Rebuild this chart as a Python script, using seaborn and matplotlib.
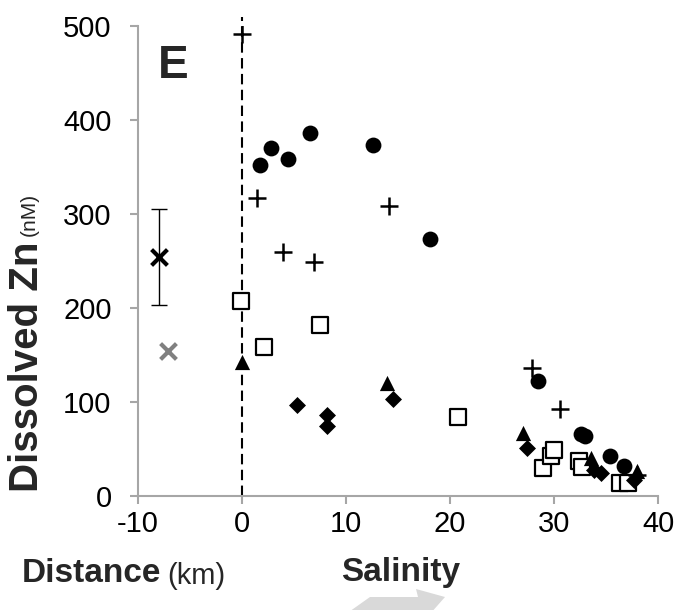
import matplotlib
matplotlib.use("Agg")
import matplotlib.pyplot as plt
import seaborn as sns
import numpy as np
import pandas as pd
from matplotlib.patches import Polygon

# ---------------- data ----------------
circle_x = [1.7, 2.8, 4.4, 6.5, 12.6, 18.1, 28.5, 32.6, 33.0, 35.4, 36.7]
circle_y = [352, 370, 358, 386, 373, 273, 122, 66, 64, 43, 32]

plus_x = [0.0, 1.4, 3.9, 6.9, 14.1, 27.9, 30.6, 38.0]
plus_y = [492, 317, 260, 249, 309, 136, 93, 22]

square_x = [-0.1, 2.1, 7.5, 20.8, 28.9, 29.7, 30.0, 32.4, 32.7, 36.3, 37.1]
square_y = [207, 158, 182, 84, 30, 43, 49, 37, 31, 14, 14]

triangle_x = [0.0, 13.9, 27.0, 33.6, 38.0]
triangle_y = [143, 120, 67, 40, 27]

diamond_x = [5.3, 8.2, 8.2, 14.5, 27.4, 33.8, 34.5, 37.7]
diamond_y = [97, 86, 75, 103, 51, 28, 24, 17]

cross_x = [-8.0]
cross_y = [254]
cross_err = [51]

gray_cross_x = [-7.1]
gray_cross_y = [154]

xticks = [-10, 0, 10, 20, 30, 40]
yticks = [0, 100, 200, 300, 400, 500]

# ---------------- figure ----------------
sns.set_theme(style="white")
plt.rcParams['font.family'] = ['Liberation Sans', 'DejaVu Sans']

W, H = 679, 610
fig = plt.figure(figsize=(W / 100, H / 100), dpi=100)
left, right, bottom, top = 138, 658, 496, 26
ax = fig.add_axes([left / W, 1 - bottom / H, (right - left) / W, (bottom - top) / H])

spine_col = "#a6a6a6"

# dashed zero line
ax.axvline(0, ymin=0, ymax=1.02, color="black", ls=(0, (5, 2.6)), lw=1.5, clip_on=False, zorder=1)

# error bar for black cross
ax.errorbar(cross_x, cross_y, yerr=cross_err, fmt="none", ecolor="black",
            elinewidth=1.0, capsize=6, capthick=1.0, zorder=2)

df_c = pd.DataFrame({"x": circle_x, "y": circle_y})
df_p = pd.DataFrame({"x": plus_x, "y": plus_y})
df_s = pd.DataFrame({"x": square_x, "y": square_y})
df_t = pd.DataFrame({"x": triangle_x, "y": triangle_y})
df_d = pd.DataFrame({"x": diamond_x, "y": diamond_y})
df_x = pd.DataFrame({"x": cross_x, "y": cross_y})
df_g = pd.DataFrame({"x": gray_cross_x, "y": gray_cross_y})

sns.scatterplot(data=df_s, x="x", y="y", ax=ax, marker="s", s=140,
                facecolor="white", edgecolor="black", linewidth=1.6, zorder=3)
sns.scatterplot(data=df_t, x="x", y="y", ax=ax, marker="^", s=120,
                color="black", edgecolor="black", linewidth=0, zorder=4)
sns.scatterplot(data=df_d, x="x", y="y", ax=ax, marker="D", s=75,
                color="black", edgecolor="black", linewidth=0, zorder=4)
sns.scatterplot(data=df_c, x="x", y="y", ax=ax, marker="o", s=130,
                color="black", edgecolor="black", linewidth=0, zorder=5)
sns.scatterplot(data=df_p, x="x", y="y", ax=ax, marker="+", s=150,
                color="black", linewidth=1.8, zorder=6)
sns.scatterplot(data=df_x, x="x", y="y", ax=ax, marker="x", s=130,
                color="black", linewidth=3.0, zorder=6)
sns.scatterplot(data=df_g, x="x", y="y", ax=ax, marker="x", s=130,
                color="#808080", linewidth=3.0, zorder=6)

ax.set_xlim(-10, 40)
ax.set_ylim(0, 500)
ax.set_xticks(xticks)
ax.set_yticks(yticks)
ax.set_xticklabels([str(t) for t in xticks])
ax.set_yticklabels([str(t) for t in yticks])
ax.set_xlabel("")
ax.set_ylabel("")
for s in ["top", "right"]:
    ax.spines[s].set_visible(False)
for s in ["left", "bottom"]:
    ax.spines[s].set_color(spine_col)
    ax.spines[s].set_linewidth(1.5)
ax.tick_params(axis="both", which="major", direction="out", length=6, width=1.5,
               color=spine_col, labelsize=21, labelcolor="black",
               bottom=True, left=True)
ax.tick_params(axis="y", pad=13)
ax.tick_params(axis="x", pad=4)
ax.set_facecolor("white")

# panel letter
fig.text(158 / W, 1 - 66 / H, "E", fontsize=33, fontweight="bold", ha="left", va="center")

# axis labels
fig.canvas.draw()
r = fig.canvas.get_renderer()

t1 = fig.text(22 / W, 1 - 574 / H, "Distance", fontsize=24, fontweight="bold",
              ha="left", va="center")
bb = t1.get_window_extent(r)
fig.text((bb.x1 + 6) / W, 1 - 576 / H, "(km)", fontsize=21, ha="left", va="center")

fig.text(401 / W, 1 - 572 / H, "Salinity", fontsize=24, fontweight="bold",
         ha="center", va="center")

t2 = fig.text(27 / W, 1 - 492 / H, "Dissolved Zn", fontsize=29, fontweight="bold",
              rotation=90, ha="center", va="bottom")
bb2 = t2.get_window_extent(r)
fig.text(29 / W, (bb2.y1 + 6) / H, "(nM)", fontsize=15, rotation=90,
         ha="center", va="bottom")

# decorative light-grey arrow at bottom
pts = [(346, 614), (370, 597), (418, 597), (416, 589), (445, 597), (430, 614)]
poly = Polygon([(x / W, 1 - y / H) for x, y in pts], closed=True,
               transform=fig.transFigure, facecolor="#d9d9d9", edgecolor="none")
fig.patches.append(poly)

fig.savefig("out.png", dpi=100, facecolor="white")
